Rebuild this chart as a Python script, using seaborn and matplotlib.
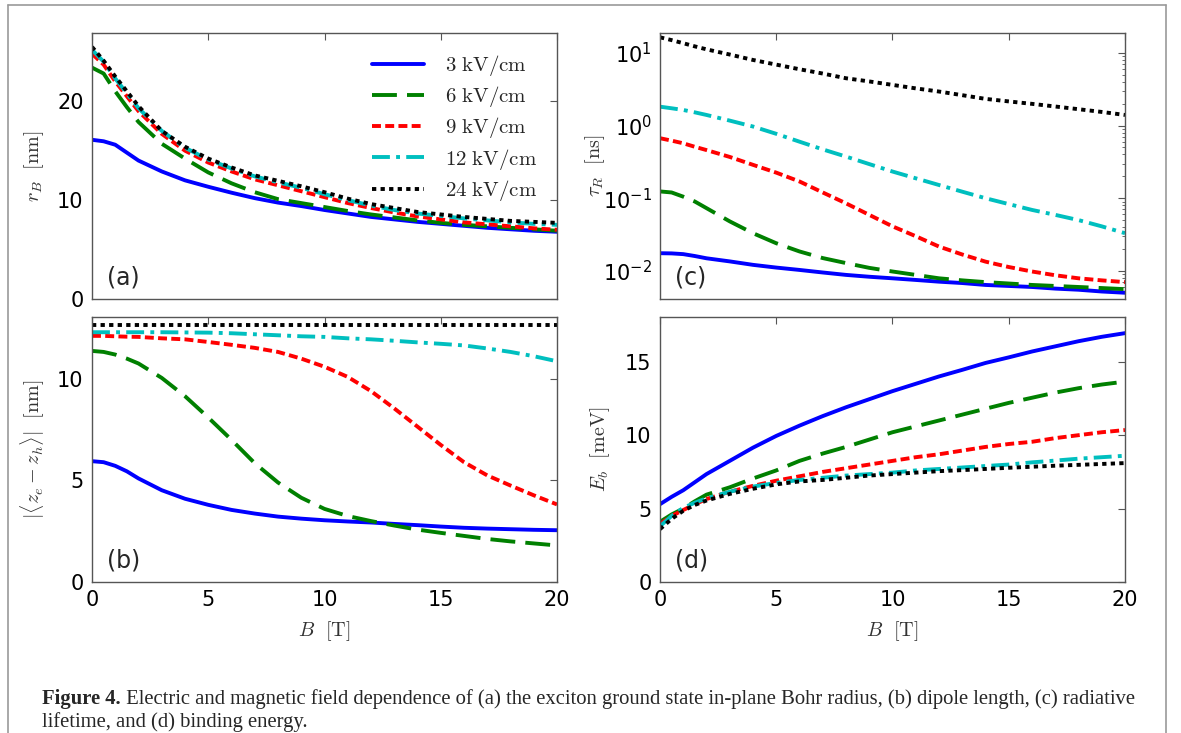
import matplotlib
matplotlib.use("Agg")
import numpy as np
import pandas as pd
import matplotlib.pyplot as plt
import seaborn as sns

# magnetic field grid (T) shared by all panels
B = [0, 0.5, 1, 1.5, 2, 3, 4, 5, 6, 7, 8, 9, 10, 11, 12, 13, 14, 15, 16, 17, 18, 19, 20]
fields = ["3 kV/cm", "6 kV/cm", "9 kV/cm", "12 kV/cm", "24 kV/cm"]

# (a) in-plane Bohr radius r_B [nm]
rB_3 = [16.1, 15.95, 15.6, 14.8, 14.0, 12.9, 12.0, 11.35, 10.75, 10.2, 9.75, 9.4, 9.0, 8.65, 8.3, 8.05, 7.8, 7.6, 7.4, 7.2, 7.05, 6.9, 6.8]
rB_6 = [23.4, 22.8, 21.0, 19.4, 17.9, 15.7, 14.2, 12.8, 11.7, 10.8, 10.1, 9.7, 9.3, 8.9, 8.55, 8.25, 7.95, 7.7, 7.5, 7.35, 7.2, 7.05, 6.9]
rB_9 = [24.8, 23.7, 22.0, 20.5, 19.0, 16.7, 15.0, 13.8, 12.9, 12.1, 11.5, 10.9, 10.3, 9.7, 9.2, 8.75, 8.35, 8.05, 7.75, 7.55, 7.35, 7.15, 7.0]
rB_12 = [25.2, 24.0, 22.3, 20.8, 19.3, 17.0, 15.3, 14.1, 13.2, 12.4, 11.8, 11.25, 10.6, 10.0, 9.45, 9.0, 8.65, 8.4, 8.15, 7.95, 7.75, 7.6, 7.5]
rB_24 = [25.5, 24.1, 22.5, 21.0, 19.5, 17.0, 15.4, 14.2, 13.3, 12.5, 11.95, 11.4, 10.8, 10.15, 9.6, 9.2, 8.8, 8.55, 8.3, 8.1, 7.9, 7.8, 7.7]

# (b) dipole length |<z_e - z_h>| [nm]
dz_3 = [5.95, 5.9, 5.72, 5.45, 5.1, 4.52, 4.1, 3.8, 3.55, 3.37, 3.22, 3.12, 3.04, 2.98, 2.93, 2.86, 2.8, 2.73, 2.67, 2.63, 2.6, 2.57, 2.55]
dz_6 = [11.38, 11.33, 11.2, 11.0, 10.76, 10.05, 9.15, 8.1, 7.0, 5.85, 4.9, 4.15, 3.6, 3.25, 3.0, 2.78, 2.58, 2.42, 2.27, 2.12, 2.0, 1.9, 1.8]
dz_9 = [12.12, 12.12, 12.1, 12.08, 12.07, 12.0, 11.95, 11.82, 11.68, 11.53, 11.33, 11.0, 10.6, 10.1, 9.4, 8.55, 7.65, 6.75, 5.9, 5.25, 4.75, 4.27, 3.82]
dz_12 = [12.3, 12.3, 12.3, 12.3, 12.3, 12.3, 12.29, 12.28, 12.25, 12.2, 12.15, 12.1, 12.07, 12.0, 11.95, 11.88, 11.8, 11.73, 11.65, 11.5, 11.33, 11.12, 10.87]
dz_24 = [12.68] * 23

# (c) radiative lifetime tau_R [ns]
tau_3 = [0.0175, 0.0174, 0.017, 0.016, 0.0149, 0.0135, 0.0121, 0.0111, 0.0103, 0.0095, 0.0088, 0.0083, 0.0079, 0.0075, 0.0071, 0.0068, 0.0064, 0.0062, 0.006, 0.0057, 0.0055, 0.0052, 0.005]
tau_6 = [0.124, 0.12, 0.105, 0.09, 0.073, 0.048, 0.033, 0.024, 0.0185, 0.015, 0.0128, 0.011, 0.0098, 0.0088, 0.0079, 0.0074, 0.007, 0.0067, 0.0064, 0.0062, 0.006, 0.0058, 0.0056]
tau_9 = [0.67, 0.62, 0.57, 0.51, 0.46, 0.37, 0.288, 0.225, 0.17, 0.12, 0.085, 0.059, 0.041, 0.03, 0.0216, 0.0168, 0.0134, 0.0113, 0.0098, 0.0087, 0.0079, 0.0074, 0.007]
tau_12 = [1.82, 1.73, 1.64, 1.52, 1.4, 1.17, 0.97, 0.77, 0.6, 0.47, 0.374, 0.295, 0.233, 0.188, 0.152, 0.123, 0.1, 0.083, 0.069, 0.059, 0.05, 0.041, 0.033]
tau_24 = [16.4, 15.0, 13.6, 12.3, 11.2, 9.5, 8.0, 6.9, 5.96, 5.2, 4.48, 4.05, 3.63, 3.25, 2.94, 2.62, 2.33, 2.15, 1.99, 1.83, 1.68, 1.54, 1.4]

# (d) binding energy E_b [meV]
Eb_3 = [5.3, 5.8, 6.25, 6.8, 7.35, 8.25, 9.15, 9.95, 10.65, 11.3, 11.9, 12.45, 13.0, 13.5, 14.0, 14.45, 14.92, 15.3, 15.7, 16.05, 16.4, 16.7, 16.95]
Eb_6 = [4.1, 4.6, 5.0, 5.5, 5.95, 6.45, 7.05, 7.6, 8.25, 8.75, 9.2, 9.7, 10.2, 10.6, 11.0, 11.4, 11.8, 12.2, 12.55, 12.9, 13.2, 13.45, 13.65]
Eb_9 = [3.95, 4.5, 4.9, 5.3, 5.65, 6.15, 6.55, 6.9, 7.2, 7.5, 7.75, 8.0, 8.25, 8.5, 8.7, 8.95, 9.2, 9.4, 9.55, 9.8, 10.0, 10.2, 10.35]
Eb_12 = [3.8, 4.5, 5.05, 5.4, 5.7, 6.15, 6.5, 6.75, 6.95, 7.1, 7.25, 7.35, 7.45, 7.6, 7.7, 7.8, 7.9, 8.0, 8.15, 8.27, 8.4, 8.5, 8.6]
Eb_24 = [3.6, 4.3, 4.85, 5.25, 5.55, 6.0, 6.35, 6.65, 6.85, 6.95, 7.1, 7.25, 7.35, 7.45, 7.55, 7.62, 7.7, 7.78, 7.85, 7.92, 7.98, 8.04, 8.1]

panels = {
    "a": [rB_3, rB_6, rB_9, rB_12, rB_24],
    "b": [dz_3, dz_6, dz_9, dz_12, dz_24],
    "c": [tau_3, tau_6, tau_9, tau_12, tau_24],
    "d": [Eb_3, Eb_6, Eb_9, Eb_12, Eb_24],
}

palette = dict(zip(fields, ["#0000ff", "#008000", "#ff0000", "#00bfbf", "#000000"]))
dashes = dict(zip(fields, ["", (6.4, 2.6), (2.3, 1.1), (4.6, 1.6, 1.0, 1.6), (1.1, 1.1)]))


def long_frame(series):
    rows = []
    for name, vals in zip(fields, series):
        for b, v in zip(B, vals):
            rows.append({"B": b, "val": v, "field": name})
    return pd.DataFrame(rows)


sns.set_style("white")
plt.rcParams.update({
    "font.family": ["DejaVu Sans"],
    "mathtext.fontset": "dejavusans",
    "axes.edgecolor": "#555555",
    "axes.linewidth": 1.0,
    "xtick.direction": "in",
    "ytick.direction": "in",
    "xtick.top": True,
    "ytick.right": True,
    "xtick.major.size": 5,
    "ytick.major.size": 5,
    "xtick.minor.size": 2.5,
    "ytick.minor.size": 2.5,
    "xtick.color": "#555555",
    "ytick.color": "#555555",
    "xtick.labelcolor": "black",
    "ytick.labelcolor": "black",
    "xtick.labelsize": 15,
    "ytick.labelsize": 15,
    "xtick.major.pad": 6,
    "ytick.major.pad": 6,
})

W, H = 1181, 733
fig = plt.figure(figsize=(W / 100, H / 100), dpi=100)

# overlay for the page frame and caption
page = fig.add_axes([0, 0, 1, 1])
page.set_xlim(0, W)
page.set_ylim(H, 0)
page.axis("off")
frame_c = "#9a9a9a"
page.plot([8, 8], [5, H], color=frame_c, lw=1.2)
page.plot([8, 1166], [5, 5], color=frame_c, lw=1.2)
page.plot([1166, 1166], [5, H], color=frame_c, lw=1.2)

cap_kw = dict(fontsize=14.9, family="Liberation Serif", va="bottom", ha="left")
cap1 = page.text(42, 709, "Figure 4.", fontweight="bold", **cap_kw)
page.annotate(" Electric and magnetic field dependence of (a) the exciton ground state in-plane Bohr radius, "
              "(b) dipole length, (c) radiative",
              xy=(1, 0), xycoords=cap1, **cap_kw)
page.text(42, 732.5, "lifetime, and (d) binding energy.", **cap_kw)


def px_axes(left, top, right, bottom):
    return fig.add_axes([left / W, 1 - bottom / H, (right - left) / W, (bottom - top) / H])


ax_a = px_axes(92, 33, 557, 299)
ax_b = px_axes(92, 317, 557, 582)
ax_c = px_axes(660, 33, 1125, 299)
ax_d = px_axes(660, 317, 1125, 582)

axes = {"a": ax_a, "b": ax_b, "c": ax_c, "d": ax_d}
for key, ax in axes.items():
    if key == "c":
        ax.set_yscale("log")
    sns.lineplot(data=long_frame(panels[key]), x="B", y="val", hue="field", style="field",
                 palette=palette, dashes=dashes, lw=2.8, legend=False, ax=ax)
    ax.set_xlim(0, 20)
    ax.set_xticks([0, 5, 10, 15, 20])
    ax.set_xlabel("")
    ax.text(0.032, 0.035, f"({key})", transform=ax.transAxes, fontsize=17, ha="left", va="bottom")

ax_a.set_ylim(0, 26.9)
ax_a.set_yticks([0, 10, 20])
ax_b.set_ylim(0, 13.05)
ax_b.set_yticks([0, 5, 10])
ax_c.set_ylim(0.0041, 18.8)
ax_c.set_yticks([1e-2, 1e-1, 1e0, 1e1])
ax_d.set_ylim(0, 18.05)
ax_d.set_yticks([0, 5, 10, 15])

for ax in (ax_a, ax_c):
    ax.tick_params(labelbottom=False)

lab_kw = dict(fontsize=14.5, color="#333333", math_fontfamily="cm")
ax_a.set_ylabel(r"$r_B\ \ [\mathrm{nm}]$", **lab_kw)
ax_b.set_ylabel(r"$|\langle z_e - z_h\rangle|\ \ [\mathrm{nm}]$", **lab_kw)
ax_c.set_ylabel(r"$\tau_R\ \ [\mathrm{ns}]$", **lab_kw)
ax_d.set_ylabel(r"$E_b\ \ [\mathrm{meV}]$", **lab_kw)
ax_b.set_xlabel(r"$B\ \ [\mathrm{T}]$", **lab_kw)
ax_d.set_xlabel(r"$B\ \ [\mathrm{T}]$", **lab_kw)
ax_a.yaxis.set_label_coords(-0.099, 0.5)
ax_b.yaxis.set_label_coords(-0.097, 0.5)
ax_c.yaxis.set_label_coords(-0.115, 0.5)
ax_d.yaxis.set_label_coords(-0.103, 0.5)
ax_b.xaxis.set_label_coords(0.5, -0.14)
ax_d.xaxis.set_label_coords(0.5, -0.14)

leg_labels = [rf"${f.split()[0]}\ \mathrm{{kV/cm}}$" for f in fields]
leg = ax_a.legend(ax_a.get_lines()[:5], leg_labels, loc="upper right", frameon=False,
                  fontsize=15, handlelength=2.5, handletextpad=1.0, labelspacing=0.3,
                  borderaxespad=0.55)
for t in leg.get_texts():
    t.set_math_fontfamily("cm")

fig.savefig("out.png", dpi=100)
